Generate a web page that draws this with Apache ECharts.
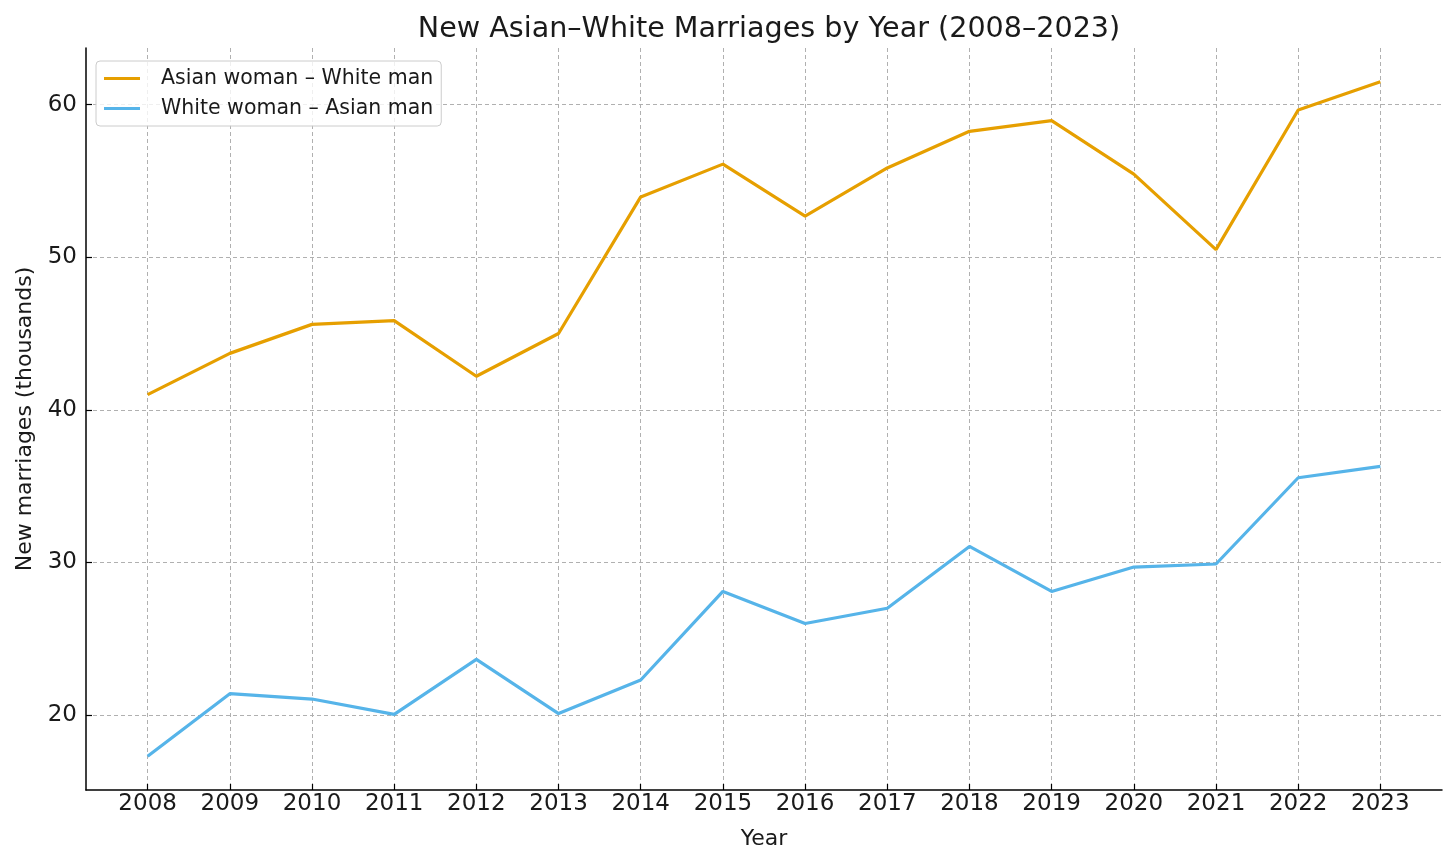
<!DOCTYPE html>
<html>
<head>
<meta charset="utf-8">
<script src="https://cdn.jsdelivr.net/npm/echarts@6/dist/echarts.min.js"></script>
<style>html,body{margin:0;padding:0;background:#fff}#c{width:1456px;height:868px}</style>
</head>
<body>
<div id="c"></div>
<script>
const years = [2008,2009,2010,2011,2012,2013,2014,2015,2016,2017,2018,2019,2020,2021,2022,2023];
const asianWomanWhiteMan = [41.0,43.7,45.6,45.85,42.2,45.0,53.95,56.1,52.7,55.85,58.25,58.95,55.45,50.5,59.65,61.5];
const whiteWomanAsianMan = [17.3,21.4,21.05,20.05,23.65,20.1,22.3,28.1,26.0,27.0,31.05,28.1,29.7,29.9,35.55,36.3];
const yTicks = [20,30,40,50,60];
const seriesNames = ['Asian woman – White man','White woman – Asian man'];

const font = 'DejaVu Sans';
const allY = asianWomanWhiteMan.concat(whiteWomanAsianMan);
const yLo = Math.min(...allY), yHi = Math.max(...allY);
const yPad = (yHi - yLo) * 0.05;
const xPad = (years[years.length-1] - years[0]) * 0.05;

const chart = echarts.init(document.getElementById('c'), null, {renderer:'canvas'});
const gridLine = {show:true, lineStyle:{color:'#b0b0b0', width:1, type:[4,3]}};
chart.setOption({
  backgroundColor:'#fff',
  animation:false,
  title:{
    text:'New Asian–White Marriages by Year (2008–2023)',
    left:764, top:10, textAlign:'center',
    textStyle:{fontFamily:font, fontSize:28.6, fontWeight:'normal', color:'#1a1a1a'}
  },
  legend:{
    orient:'vertical', left:96, top:61,
    icon:'rect', itemWidth:36, itemHeight:3, itemGap:9,
    padding:[7,8,7,8],
    backgroundColor:'rgba(255,255,255,0.8)', borderColor:'#cccccc', borderWidth:1, borderRadius:4,
    textStyle:{fontFamily:font, fontSize:20.5, color:'#1a1a1a', padding:[0,0,0,16]},
    data:seriesNames
  },
  grid:{left:86, right:14, top:48, bottom:78, containLabel:false},
  xAxis:{
    type:'value', min:years[0]-xPad, max:years[years.length-1]+xPad,
    name:'Year', nameLocation:'middle', nameGap:38,
    nameTextStyle:{fontFamily:font, fontSize:22, color:'#1a1a1a'},
    axisLine:{show:true, onZero:false, lineStyle:{color:'#000', width:1.5}},
    axisTick:{show:true, inside:true, length:6, customValues:years, lineStyle:{color:'#000', width:1.2}},
    axisLabel:{customValues:years, fontFamily:font, fontSize:23, color:'#1a1a1a', margin:3, formatter:v=>String(v)},
    splitLine:gridLine
  },
  yAxis:{
    type:'value', min:yLo-yPad, max:yHi+yPad,
    name:'New marriages (thousands)', nameLocation:'middle', nameGap:50, nameRotate:90,
    nameTextStyle:{fontFamily:font, fontSize:22, color:'#1a1a1a'},
    axisLine:{show:true, onZero:false, lineStyle:{color:'#000', width:1.5}},
    axisTick:{show:true, inside:true, length:6, customValues:yTicks, lineStyle:{color:'#000', width:1.2}},
    axisLabel:{customValues:yTicks, fontFamily:font, fontSize:23, color:'#1a1a1a', margin:9, formatter:v=>String(v)},
    splitLine:gridLine
  },
  series:[
    {name:seriesNames[0], type:'line', symbol:'none', data:years.map((y,i)=>[y,asianWomanWhiteMan[i]]),
     lineStyle:{color:'#E69F00', width:3.2}, itemStyle:{color:'#E69F00'}},
    {name:seriesNames[1], type:'line', symbol:'none', data:years.map((y,i)=>[y,whiteWomanAsianMan[i]]),
     lineStyle:{color:'#56B4E9', width:3.2}, itemStyle:{color:'#56B4E9'}}
  ]
});
</script>
</body>
</html>
